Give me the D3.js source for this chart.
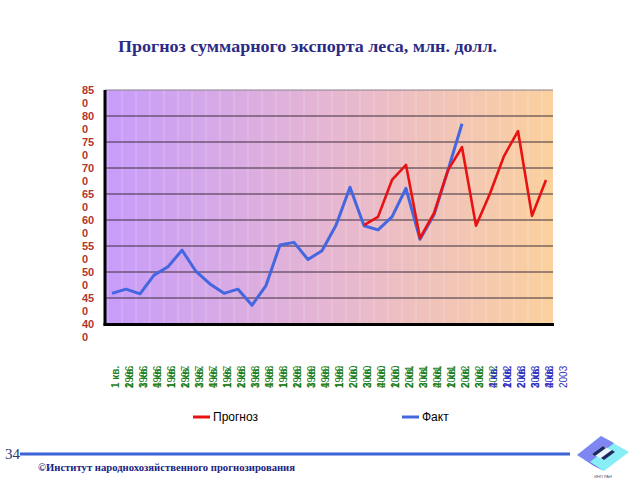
<!DOCTYPE html>
<html>
<head>
<meta charset="utf-8">
<script src="https://cdn.jsdelivr.net/npm/d3@7/dist/d3.min.js"></script>
<style>
  html, body { margin: 0; padding: 0; background: #ffffff; }
  svg { display: block; }
</style>
</head>
<body>
<script>
// ---------- DATA ----------
const years = [1996, 1997, 1998, 1999, 2000, 2001, 2002, 2003];
const quarters = ["1", "2", "3", "4"];
const categories = [];
years.forEach(y => quarters.forEach(q => categories.push({q: q, y: y, key: q + " кв. " + y})));

const factValues = [459, 467, 458, 494, 510, 542, 501, 477, 459, 467, 436, 474,
                    552, 557, 524, 541, 590, 663, 589, 581, 606, 661, 563, 610,
                    696, 785, null, null, null, null, null, null];
const forecastValues = [null, null, null, null, null, null, null, null, null, null, null, null,
                        null, null, null, null, null, null, 590, 606, 677, 706, 565, 613,
                        696, 740, 589, 651, 723, 771, 608, 677];
const yTicks = [400, 450, 500, 550, 600, 650, 700, 750, 800, 850];
const seriesNames = ["Прогноз", "Факт"];
const titleText = "Прогноз суммарного экспорта леса, млн. долл.";
const footerText = "©Институт народнохозяйственного прогнозирования";
const pageNumber = "34";

// ---------- LAYOUT ----------
const W = 640, H = 480;
const plot = {left: 105, right: 553, top: 90, bottom: 324};

const svg = d3.select("body").append("svg").attr("width", W).attr("height", H);

const x = d3.scaleBand().domain(categories.map(d => d.key)).range([plot.left, plot.right]);
const y = d3.scaleLinear().domain([400, 850]).range([plot.bottom, plot.top]);
const cx = k => x(k) + x.bandwidth() / 2;

// gradient background
const defs = svg.append("defs");
const grad = defs.append("linearGradient").attr("id", "bg").attr("x1", "0").attr("x2", "1").attr("y1", "0").attr("y2", "0");
grad.append("stop").attr("offset", "0%").attr("stop-color", "#c79cfb");
grad.append("stop").attr("offset", "50%").attr("stop-color", "#e6b6d2");
grad.append("stop").attr("offset", "100%").attr("stop-color", "#fbd19e");

svg.append("rect")
  .attr("x", plot.left).attr("y", plot.top)
  .attr("width", plot.right - plot.left).attr("height", plot.bottom - plot.top)
  .attr("fill", "url(#bg)");

// faint vertical stripes
svg.append("g").selectAll("line").data(categories).join("line")
  .attr("x1", d => x(d.key) + 3).attr("x2", d => x(d.key) + 3)
  .attr("y1", plot.top).attr("y2", plot.bottom)
  .attr("stroke", "#ffffff").attr("stroke-opacity", 0.13).attr("stroke-width", 2);

// grid lines
svg.append("g").selectAll("line").data(yTicks.filter(v => v > 400)).join("line")
  .attr("x1", plot.left).attr("x2", plot.right)
  .attr("y1", d => y(d)).attr("y2", d => y(d))
  .attr("stroke", d => d === 850 ? "#8a8090" : "#3d2d3d").attr("stroke-width", 1);

// axes (thick black)
svg.append("line").attr("x1", plot.left).attr("x2", plot.left)
  .attr("y1", plot.top).attr("y2", plot.bottom + 1.5)
  .attr("stroke", "#000").attr("stroke-width", 3);
svg.append("line").attr("x1", plot.left - 1.5).attr("x2", plot.right + 1)
  .attr("y1", plot.bottom + 0.5).attr("y2", plot.bottom + 0.5)
  .attr("stroke", "#000").attr("stroke-width", 3);

// y labels: two lines "85" / "0"
const yl = svg.append("g").attr("font-family", "Liberation Sans, Arial, sans-serif")
  .attr("font-size", 11).attr("font-weight", "bold").attr("fill", "#b4362a");
yTicks.forEach(v => {
  const s = String(v);
  const t = yl.append("text").attr("x", 82).attr("y", y(v) + 4);
  t.append("tspan").attr("x", 82).attr("dy", 0).text(s.slice(0, 2));
  t.append("tspan").attr("x", 82).attr("dy", 13).text(s.slice(2));
});

// x labels: rotated, two lines overlapping like the original
const xl = svg.append("g").attr("font-family", "Liberation Sans, Arial, sans-serif")
  .attr("font-size", 10);
categories.forEach((d, i) => {
  const col = i >= 27 ? "#3030c0" : "#1f7f1c";
  const t = xl.append("text")
    .attr("transform", `translate(${cx(d.key) + 7},388) rotate(-90)`)
    .attr("fill", col).attr("text-anchor", "start");
  t.append("tspan").attr("x", 0).attr("dy", 0).attr("font-weight", "bold").text(d.q + " кв.");
  t.append("tspan").attr("x", 0).attr("dy", 14).text(String(d.y));
});

// lines
const line = d3.line()
  .defined(d => d.v !== null)
  .x(d => cx(d.k)).y(d => y(d.v));

svg.append("path")
  .datum(categories.map((c, i) => ({k: c.key, v: factValues[i]})))
  .attr("d", line).attr("fill", "none")
  .attr("stroke", "#4467e0").attr("stroke-width", 3).attr("stroke-linejoin", "round");

svg.append("path")
  .datum(categories.map((c, i) => ({k: c.key, v: forecastValues[i]})))
  .attr("d", line).attr("fill", "none")
  .attr("stroke", "#e81212").attr("stroke-width", 2.6).attr("stroke-linejoin", "round");

// legend
const legend = [
  {name: seriesNames[0], color: "#e81212", x: 193},
  {name: seriesNames[1], color: "#4467e0", x: 402}
];
const lg = svg.append("g");
legend.forEach(l => {
  lg.append("line").attr("x1", l.x).attr("x2", l.x + 17).attr("y1", 417).attr("y2", 417)
    .attr("stroke", l.color).attr("stroke-width", 3);
  lg.append("text").attr("x", l.x + 20).attr("y", 421)
    .attr("font-family", "Liberation Sans, Arial, sans-serif").attr("font-size", 12)
    .attr("fill", "#000").text(l.name);
});

// title
svg.append("text").attr("x", 118).attr("y", 52)
  .attr("font-family", "Liberation Serif, Times New Roman, serif")
  .attr("font-weight", "bold").attr("font-size", 17).attr("fill", "#2b2b86")
  .attr("textLength", 379).attr("lengthAdjust", "spacingAndGlyphs")
  .text(titleText);

// footer
svg.append("line").attr("x1", 20).attr("x2", 570).attr("y1", 454).attr("y2", 454)
  .attr("stroke", "#3d63d8").attr("stroke-width", 3);
svg.append("text").attr("x", 5).attr("y", 459)
  .attr("font-family", "Liberation Serif, Times New Roman, serif")
  .attr("font-size", 15).attr("fill", "#2a3a6a").text(pageNumber);
svg.append("text").attr("x", 38).attr("y", 471)
  .attr("font-family", "Liberation Serif, Times New Roman, serif")
  .attr("font-weight", "bold").attr("font-size", 11).attr("fill", "#1a2380")
  .attr("textLength", 257).attr("lengthAdjust", "spacingAndGlyphs")
  .text(footerText);

// logo
const logo = svg.append("g");
logo.append("polygon").attr("points", "577,455 601,436 629,452 604,471").attr("fill", "#86eef4");
logo.append("polygon").attr("points", "577,455 601,436 614,443 590,462").attr("fill", "#7f86f2");
logo.append("polygon").attr("points", "577,455 590,462 604,471 594,466").attr("fill", "#6a70e8");
logo.append("polygon").attr("points", "592,454 603,446 615,452 604,460").attr("fill", "#e8f6fb");
logo.append("polygon").attr("points", "592,454 603,446 606,448 595,456").attr("fill", "#1a2a60");
logo.append("polygon").attr("points", "601,458 612,450 615,452 604,460").attr("fill", "#1a2a60");
logo.append("text").attr("x", 603).attr("y", 478).attr("text-anchor", "middle")
  .attr("font-family", "Liberation Sans, Arial, sans-serif").attr("font-size", 4)
  .attr("fill", "#556").text("ИНП РАН");
</script>
</body>
</html>
